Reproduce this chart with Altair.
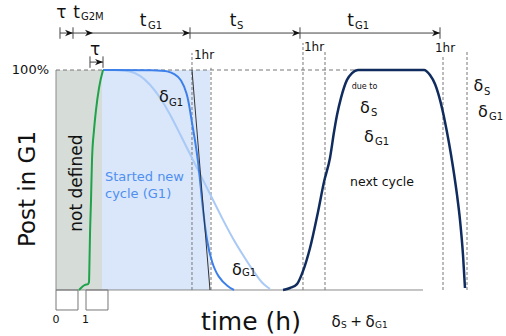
import altair as alt
import pandas as pd

# Time in hours (0 and 1 marked under the baseline), share of cells in G1 in percent
X_DOMAIN = [-1.8667, 15.0]
Y_DOMAIN = [-20.91, 131.82]
FONT = "DejaVu Sans"

# ---- curves -------------------------------------------------------------
green_h = [0.767, 0.867, 0.967, 1.067, 1.1, 1.117, 1.133, 1.167, 1.2, 1.267, 1.333, 1.433, 1.567]
green_p = [0, 1.4, 2.3, 2.7, 3.6, 13.6, 25, 40.9, 59.1, 72.7, 81.8, 91.8, 100]

blue_h = [1.567, 3.467, 3.7, 3.967, 4.167, 4.367, 4.467, 4.533, 4.633, 4.733, 4.833, 4.9,
          5.033, 5.2, 5.4, 5.733, 5.933]
blue_p = [100, 100, 99.5, 98.2, 95.9, 89.5, 81.8, 75.9, 68.2, 59.1, 45.5, 36.4,
          21.4, 12.3, 5.9, 1.4, 0]

light_h = [1.567, 2.133, 2.467, 2.8, 3.133, 3.467, 3.8, 4.133, 4.467, 4.8, 5.167, 5.533,
           5.9, 6.233, 6.533, 6.767, 6.933, 7.133]
light_p = [100, 100, 99.5, 97.7, 93.6, 87.7, 80, 70.9, 61.8, 52.7, 42.7, 32.7,
           23.2, 15.9, 9.5, 5, 2.3, 0.5]

navy_h = [7.567, 7.8, 8.033, 8.233, 8.467, 8.733, 8.933, 9.133, 9.267, 9.367, 9.5, 9.7,
          9.867, 10.067, 12.267, 12.467, 12.633, 12.8, 12.967, 13.1, 13.233, 13.367,
          13.467, 13.567, 13.633]
navy_p = [0, 0.9, 2.7, 8.6, 19.1, 35.5, 49.1, 60, 71.8, 79.5, 87.3, 95.5,
          98.6, 100, 100, 97.7, 93.6, 86.4, 76.4, 66.8, 55.9, 43.2,
          31.8, 15.9, 0.9]

tangent_h = [4.533, 5.133]
tangent_p = [100, 0]

# ---- shaded phases --------------------------------------------------------
phase_start = [0.0, 1.533]
phase_end = [1.533, 5.133]
phase_fill = ["#d6ddd9", "#dae7fb"]

# ---- dashed 1 hr markers ----------------------------------------------------
marker_h = [4.533, 5.167, 8.233, 8.967, 12.9, 13.7]
marker_top = [107.7, 101.0, 112.3, 108.2, 106.8, 108.2]
hr_label_h = [4.933, 8.6, 12.967]
hr_label_p = [106.8, 110.5, 110.0]

# ---- interval arrows on top -------------------------------------------------
arrow_row = 116.8
arrow_ticks = [0.133, 0.567, 4.467, 8.133, 12.8]
arrow_tips = [0.567, 1.233, 4.467, 8.133, 12.8]
tau_row = 103.6
tau_ends = [1.133, 1.567]

# ---- boxes under the baseline -------------------------------------------------
box_start = [0.0, 1.0]
box_end = [0.733, 1.733]

xs = alt.Scale(domain=X_DOMAIN, nice=False, zero=False)
ys = alt.Scale(domain=Y_DOMAIN, nice=False, zero=False)


def X(f="h"):
    return alt.X(f + ":Q", scale=xs, axis=None)


def Y(f="p"):
    return alt.Y(f + ":Q", scale=ys, axis=None)


def curve(h, p, color, width, interp="monotone"):
    df = pd.DataFrame({"h": h, "p": p, "i": range(len(h))})
    return alt.Chart(df).mark_line(color=color, strokeWidth=width, interpolate=interp).encode(
        x=X(), y=Y(), order="i:Q")


layers = []

# shaded regions
phases = pd.DataFrame({"h": phase_start, "h2": phase_end, "c": phase_fill})
layers.append(alt.Chart(phases).mark_rect(opacity=1).encode(
    x=X(), x2="h2:Q", y=alt.Y("y0:Q", scale=ys, axis=None), y2="y1:Q",
    fill=alt.Fill("c:N", scale=None)).transform_calculate(y0="0", y1="100"))

# left edge of the undefined region and the baseline
edges = pd.DataFrame({"h": [0.0, 0.0], "h2": [0.0, 12.233], "p": [0.0, 0.0], "p2": [100.0, 0.0]})
layers.append(alt.Chart(edges).mark_rule(color="#8a8a8a", strokeWidth=1).encode(
    x=X(), x2="h2:Q", y=Y(), y2="p2:Q"))

# 100 % guide
full = pd.DataFrame({"h": [0.0], "h2": [11.63], "p": [100.0]})
layers.append(alt.Chart(full).mark_rule(color="#777777", strokeDash=[4, 3], strokeWidth=1).encode(
    x=X(), x2="h2:Q", y=Y()))

# 1 hr markers
markers = pd.DataFrame({"h": marker_h, "p": [0.0] * len(marker_h), "p2": marker_top})
layers.append(alt.Chart(markers).mark_rule(color="#777777", strokeDash=[3, 2], strokeWidth=1).encode(
    x=X(), y=Y(), y2="p2:Q"))

# curves
layers.append(curve(light_h, light_p, "#a9c9f6", 2, "basis"))
layers.append(curve(blue_h, blue_p, "#3d80ea", 2, "basis"))
layers.append(curve(tangent_h, tangent_p, "#333333", 1, "linear"))
layers.append(curve(green_h, green_p, "#1ea24a", 2))
layers.append(curve(navy_h, navy_p, "#102c5e", 2.5))

# boxes under the axis
boxes = pd.DataFrame({"h": box_start, "h2": box_end})
layers.append(alt.Chart(boxes).mark_rect(fill="white", fillOpacity=0, stroke="#777777", strokeWidth=1).encode(
    x=X(), x2="h2:Q", y=alt.Y("y0:Q", scale=ys, axis=None), y2="y1:Q").transform_calculate(y0="0", y1="-9.09"))

# interval arrows
arrow_line = pd.DataFrame({"h": [arrow_ticks[0], tau_ends[0]], "h2": [arrow_ticks[-1], tau_ends[1]],
                           "p": [arrow_row, tau_row]})
layers.append(alt.Chart(arrow_line).mark_rule(color="#444444", strokeWidth=1).encode(
    x=X(), x2="h2:Q", y=Y()))
ticks = pd.DataFrame({"h": arrow_ticks + tau_ends,
                      "p": [arrow_row - 2.6] * len(arrow_ticks) + [tau_row - 2.6] * 2,
                      "p2": [arrow_row + 2.6] * len(arrow_ticks) + [tau_row + 2.6] * 2})
layers.append(alt.Chart(ticks).mark_rule(color="#444444", strokeWidth=1).encode(
    x=X(), y=Y(), y2="p2:Q"))
tips = pd.DataFrame({"h": arrow_tips + [tau_ends[1]], "p": [arrow_row] * len(arrow_tips) + [tau_row]})
layers.append(alt.Chart(tips).mark_point(
    shape="M0,0 L-2,-0.8 L-1.4,0 L-2,0.8 Z", size=64, filled=True, color="#111111", opacity=1).encode(
    x=X(), y=Y()))


def labels(h, p, text, size, align="center", color="#111111", angle=0, baseline="middle"):
    df = pd.DataFrame({"h": h, "p": p, "t": text})
    return alt.Chart(df).mark_text(font=FONT, fontSize=size, align=align, baseline=baseline,
                                   color=color, angle=angle).encode(x=X(), y=Y(), text="t:N")


# symbols on top (τ, t)
layers.append(labels([0.183, 1.3, 0.683, 2.9, 5.9, 9.817],
                     [125.9, 109.1, 126.1, 122.3, 122.3, 122.3],
                     ["τ", "τ", "t", "t", "t", "t"], 17))
layers.append(labels([0.833, 3.067, 6.033, 9.967], [124.1, 120.2, 120.2, 120.2],
                     ["G2M", "G1", "S", "G1"], 10, align="left"))

# 1 hr labels
layers.append(labels(hr_label_h, hr_label_p, ["1hr"] * 3, 12))

# δ symbols
delta_h = [3.6, 6.033, 10.3, 10.433, 14.083, 14.233]
delta_p = [87.7, 9.1, 82.7, 69.5, 92.7, 80.9]
layers.append(labels(delta_h, delta_p, ["δ"] * len(delta_h), 16))
layers.append(labels([3.767, 6.2, 10.5, 10.633, 14.267, 14.433],
                     [85.0, 7.7, 80.5, 67.3, 90.0, 78.6],
                     ["G1", "G1", "S", "G1", "S", "G1"], 10, align="left"))

# sum under the axis
layers.append(labels([9.333, 10.467], [-14.5, -14.5], ["δ", "δ"], 15))
layers.append(labels([9.5, 10.633], [-15.9, -15.9], ["S", "G1"], 9, align="left"))
layers.append(labels([10.0], [-14.5], ["+"], 14))

# annotations
layers.append(labels([10.283], [92.3], ["due to"], 8))
layers.append(labels([10.867], [49.1], ["next cycle"], 12.5))
layers.append(labels([1.633, 1.633], [51.4, 43.6], ["Started new", "cycle (G1)"], 13,
                     align="left", color="#4f8ff0"))
layers.append(labels([0.7], [48.6], ["not defined"], 17, angle=270))

# axis texts
layers.append(labels([-0.233], [100.0], ["100%"], 13, align="right"))
layers.append(labels([0.0, 0.983], [-13.6, -13.6], ["0", "1"], 11))
layers.append(labels([-0.933], [45.9], ["Post in G1"], 23, angle=270))
layers.append(labels([6.5], [-14.5], ["time (h)"], 25))

chart = alt.layer(*layers).properties(
    width=506, height=336, padding=0, autosize=alt.AutoSizeParams(type="none"),
    background="white"
).configure_view(stroke=None)

chart.save("out.html", embed_options={"renderer": "svg", "actions": False})
